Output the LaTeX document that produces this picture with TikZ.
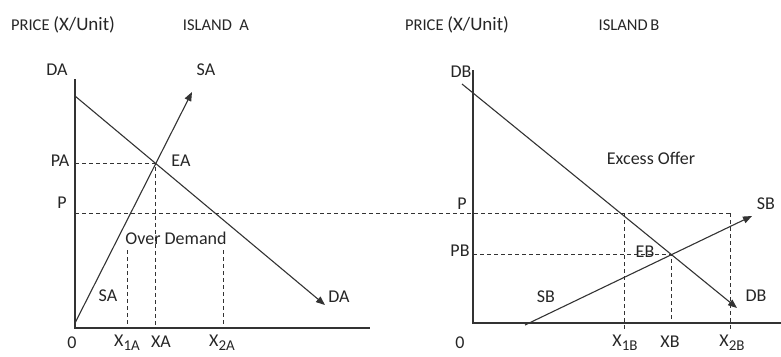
\documentclass[tikz,border=0pt]{standalone}
\usepackage{fontspec}
\setmainfont{Carlito}
\usetikzlibrary{positioning, arrows.meta}

\newcommand{\lowsub}[1]{\raisebox{-0.45ex}{\fontsize{15}{15}\selectfont #1}}
\newcommand{\unitpart}{{\fontsize{19}{19}\selectfont (X/Unit)}}

\begin{document}
\begin{tikzpicture}[x=1pt, y=-1pt,
      lbl/.style={font=\fontsize{18}{20}\selectfont, text=black!85, inner sep=1pt},
      ttl/.style={font=\fontsize{16.5}{18}\selectfont, text=black!85, inner sep=1pt},
      axisline/.style={line width=1.1pt, black!80},
      curve/.style={line width=1.1pt, black!80, -{Triangle[length=9pt, width=7pt]}},
      guide/.style={line width=0.8pt, black!80, dash pattern=on 4pt off 3pt},
      ]
      \useasboundingbox (0,0) rectangle (781,356);

      % Titles
      \node[ttl] (prA) at (63,25) {PRICE \unitpart};
      \node[ttl] (isA) at (216,25) {ISLAND\ \ A};
      \node[ttl] (prB) at (457,25) {PRICE \unitpart};
      \node[ttl] (isB) at (629,25) {ISLAND\,B};

      % Island A: axes and curves
      \coordinate (oA) at (75,328);
      \coordinate (yA) at (75,79);
      \coordinate (xA) at (370,328);
      \coordinate (da1) at (75,96);
      \coordinate (da2) at (325,305);
      \coordinate (sa1) at (75,323);
      \coordinate (sa2) at (192,92);
      \coordinate (EA) at (intersection of da1--da2 and sa1--sa2);
      \draw[axisline] (yA) -- (oA) -- (xA);
      \draw[curve] (da1) -- (da2);
      \draw[curve] (sa1) -- (sa2);

      % Island B: axes and curves
      \coordinate (oB) at (473,323);
      \coordinate (yB) at (473,70);
      \coordinate (xB) at (781,323);
      \coordinate (db1) at (462,84);
      \coordinate (db2) at (737,308);
      \coordinate (sb1) at (525,325);
      \coordinate (sb2) at (752,216);
      \coordinate (EB) at (intersection of db1--db2 and sb1--sb2);
      \draw[axisline] (yB) -- (oB) -- (xB);
      \draw[curve] (db1) -- (db2);
      \draw[curve] (sb1) -- (sb2);

      % World price line
      \coordinate (pL) at (75,213);
      \coordinate (pR) at (730,213);
      \draw[guide] (pL) -- (pR);

      % Guides, island A
      \draw[guide] (oA |- EA) -- (EA) -- (EA |- oA);
      \coordinate (x1At) at (127,250);
      \coordinate (x2At) at (223,250);
      \draw[guide] (x1At) -- (x1At |- oA);
      \draw[guide] (x2At) -- (x2At |- oA);

      % Guides, island B
      \coordinate (x1Bt) at (624,213);
      \coordinate (x2Bt) at (730,213);
      \draw[guide] (oB |- EB) -- (EB) -- (EB |- oB);
      \draw[guide] (x1Bt) -- ++(0,117);
      \draw[guide] (x2Bt) -- ++(0,117);

      % Labels, island A
      \node[lbl] (daT) at (57,70) {DA};
      \node[lbl] (saT) at (206,70) {SA};
      \node[lbl] (pa) at (60,161) {PA};
      \node[lbl] (ea) at (181,161) {EA};
      \node[lbl] (pA) at (62,203) {P};
      \node[lbl] (od) at (176,238) {Over Demand};
      \node[lbl] (saL) at (108,296) {SA};
      \node[lbl] (daL) at (339,297) {DA};
      \node[lbl] (zA) at (72,343) {0};
      \node[lbl] (x1A) at (127,343) {X\lowsub{1A}};
      \node[lbl] (xaL) at (161,342) {XA};
      \node[lbl] (x2A) at (222,343) {X\lowsub{2A}};

      % Labels, island B
      \node[lbl] (dbT) at (461,72) {DB};
      \node[lbl] (eo) at (651,158) {Excess Offer};
      \node[lbl] (pB) at (462,204) {P};
      \node[lbl] (pb) at (460,251) {PB};
      \node[lbl] (eb) at (645,252) {EB};
      \node[lbl] (sbR) at (766,204) {SB};
      \node[lbl] (sbL) at (546,297) {SB};
      \node[lbl] (dbL) at (756,296) {DB};
      \node[lbl] (zB) at (460,343) {0};
      \node[lbl] (x1B) at (625,343) {X\lowsub{1B}};
      \node[lbl] (xbL) at (670,342) {XB};
      \node[lbl] (x2B) at (732,343) {X\lowsub{2B}};
\end{tikzpicture}
\end{document}
